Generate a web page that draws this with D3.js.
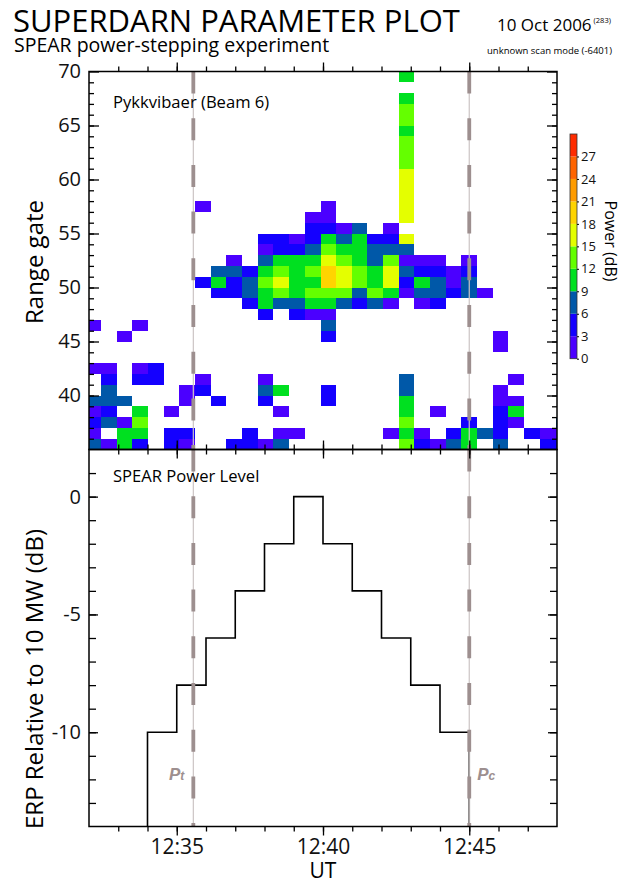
<!DOCTYPE html>
<html>
<head>
<meta charset="utf-8">
<script src="https://cdnjs.cloudflare.com/ajax/libs/d3/7.8.5/d3.min.js"></script>
<style>
  body { margin: 0; background: #fff; }
  svg { display: block; font-family: "Open Sans", "Noto Sans", sans-serif; }
</style>
</head>
<body>
<svg id="chart" width="643" height="884"></svg>
<script>
// scan start times (UT, 10 Oct 2006), one column per scan
var scanTimes = ["12:31:53", "12:32:25", "12:32:57", "12:33:29", "12:34:01", "12:34:33",
  "12:35:05", "12:35:38", "12:36:10", "12:36:42", "12:37:14", "12:37:46", "12:38:18",
  "12:38:50", "12:39:23", "12:39:55", "12:40:27", "12:40:59", "12:41:31", "12:42:03",
  "12:42:35", "12:43:07", "12:43:40", "12:44:12", "12:44:44", "12:45:16", "12:45:48",
  "12:46:20", "12:46:52", "12:47:25", "12:47:57"];
var scanLength = 32; // seconds

// range gates, top row first
var rangeGates = [69, 68, 67, 66, 65, 64, 63, 62, 61, 60, 59, 58, 57, 56, 55, 54, 53, 52,
  51, 50, 49, 48, 47, 46, 45, 44, 43, 42, 41, 40, 39, 38, 37, 36, 35];

// power per cell as 3 dB band (0 = 0-3 dB ... 6 = 18-21 dB), "." = no echo
var powerBands = [
  "....................3..........",
  "...............................",
  "....................3..........",
  "....................4..........",
  "....................4..........",
  "....................3..........",
  "....................4..........",
  "....................4..........",
  "....................4..........",
  "....................5..........",
  "....................5..........",
  "....................5..........",
  ".......0.......0....5..........",
  "..............00....5..........",
  "..............1102.0...........",
  "...........1101323115..........",
  "...........0112433222..........",
  ".........0.233354324000.0......",
  "........22134346543521101......",
  ".......131245336543513202......",
  "........112343444243022120.....",
  "..........1322332120.01........",
  "...........1.100...............",
  "0..0...........2...............",
  "..0............1..........0....",
  "..........................0....",
  "...............................",
  "00.01..........................",
  ".1.11..0...0........2......0...",
  ".2....01...23..1....2.....0....",
  "222...0.1..1...1....3.....00...",
  "01.3.0......0.......3.0...13...",
  "1204................4...1.10..2",
  "0.33.11...1.00.....030.1321.100",
  "2031.10..1102.......41023.2..11"
];

var powerTicks = [0, 3, 6, 9, 12, 15, 18, 21, 24, 27];
var powerColors = ["#4b00ff", "#1400ff", "#0058a8", "#00e020", "#64ff00",
  "#e4ff00", "#ffd400", "#ff9c00", "#ff6400", "#ff2c00"];

// SPEAR ERP step sequence (dB rel. 10 MW); -20 = transmitter off
var stepTimes = ["12:32:00", "12:34:00", "12:35:00", "12:36:00", "12:37:00", "12:38:00",
  "12:39:00", "12:40:00", "12:41:00", "12:42:00", "12:43:00", "12:44:00", "12:45:00", "12:48:00"];
var stepLevels = [-20, -10, -8, -6, -4, -2, 0, -2, -4, -6, -8, -10, -20, -20];

var gateTicks = [40, 45, 50, 55, 60, 65, 70];
var erpTicks = [-10, -5, 0];

var markers = [{ name: "t", time: "12:35:34", side: "left" },
               { name: "c", time: "12:45:00", side: "right" }];

(function () {
  'use strict';
  var parse = d3.utcParse("%Y-%m-%d %H:%M:%S");
  function t(s) { return parse("2006-10-10 " + s); }

  var left = 89, right = 557;
  var top1 = 71.5, mid = 449.5, bot = 826.5;
  var grey = "#9d8f8f";

  var svg = d3.select("#chart");

  var x = d3.scaleUtc().domain([t("12:32:00"), t("12:48:00")]).range([left, right]);
  var yGate = d3.scaleLinear().domain([35, 70]).range([mid, top1]);
  var yErp = d3.scaleLinear().domain([-14, 2]).range([bot, mid]);
  var color = d3.scaleQuantize().domain([0, 30]).range(powerColors);

  var defs = svg.append("defs");
  defs.append("clipPath").attr("id", "clipTop").append("rect")
    .attr("x", left).attr("y", top1).attr("width", right - left).attr("height", mid - top1);
  defs.append("clipPath").attr("id", "clipBot").append("rect")
    .attr("x", left).attr("y", mid).attr("width", right - left).attr("height", bot - mid);

  // ---- titles ----
  svg.append("text").attr("x", 13).attr("y", 32).attr("font-size", 31)
    .text("SUPERDARN PARAMETER PLOT");
  svg.append("text").attr("x", 14).attr("y", 52).attr("font-size", 19.5)
    .text("SPEAR power-stepping experiment");
  var dt = svg.append("text").attr("x", 497).attr("y", 31).attr("font-size", 17);
  dt.append("tspan").text("10 Oct 2006");
  dt.append("tspan").attr("font-size", 7.5).attr("dx", 2).attr("dy", -8).text("(283)");
  svg.append("text").attr("x", 612).attr("y", 54).attr("font-size", 9.5)
    .attr("text-anchor", "end").text("unknown scan mode (-6401)");

  // ---- range-time cells ----
  var cells = [];
  powerBands.forEach(function (row, i) {
    row.split("").forEach(function (c, k) {
      if (c === ".") return;
      var start = t(scanTimes[k]);
      var end = k + 1 < scanTimes.length ? t(scanTimes[k + 1])
        : new Date(start.getTime() + scanLength * 1000);
      cells.push({ gate: rangeGates[i], start: start, end: end, power: +c * 3 + 1.5 });
    });
  });

  svg.append("g").attr("clip-path", "url(#clipTop)")
    .selectAll("rect").data(cells).enter().append("rect")
    .attr("x", function (d) { return x(d.start); })
    .attr("width", function (d) { return x(d.end) - x(d.start); })
    .attr("y", function (d) { return yGate(d.gate + 1); })
    .attr("height", function (d) { return yGate(d.gate) - yGate(d.gate + 1); })
    .attr("fill", function (d) { return color(d.power); })
    .attr("shape-rendering", "crispEdges");

  // ---- power steps ----
  var steps = stepTimes.map(function (s, i) { return { time: t(s), level: stepLevels[i] }; });
  var line = d3.line().curve(d3.curveStepAfter)
    .x(function (d) { return x(d.time); })
    .y(function (d) { return yErp(d.level); });
  svg.append("g").attr("clip-path", "url(#clipBot)")
    .append("path").datum(steps).attr("d", line)
    .attr("fill", "none").attr("stroke", "#000").attr("stroke-width", 1.6);

  // ---- Pt / Pc markers ----
  markers.forEach(function (m) {
    var mx = x(t(m.time));
    [[top1, mid], [mid, bot]].forEach(function (span) {
      svg.append("line").attr("x1", mx).attr("x2", mx).attr("y1", span[0]).attr("y2", span[1])
        .attr("stroke", "#cbc4c4").attr("stroke-width", 1.2);
      svg.append("line").attr("x1", mx).attr("x2", mx).attr("y1", span[0]).attr("y2", span[1])
        .attr("stroke", grey).attr("stroke-width", 3.8).attr("stroke-dasharray", "22,24.7");
    });
    var lab = svg.append("text").attr("y", 780).attr("fill", grey)
      .attr("font-family", "Liberation Sans, Arial, sans-serif")
      .attr("font-weight", "bold").attr("font-style", "italic").attr("font-size", 17)
      .attr("x", m.side === "left" ? mx - 9 : mx + 8)
      .attr("text-anchor", m.side === "left" ? "end" : "start");
    lab.append("tspan").text("P");
    lab.append("tspan").attr("font-size", 12).text(m.name);
  });

  // ---- axes ----
  function frame(y0, y1) {
    svg.append("rect").attr("x", left).attr("y", y0).attr("width", right - left)
      .attr("height", y1 - y0).attr("fill", "none").attr("stroke", "#000").attr("stroke-width", 1.5);
  }

  function ticks(axis, pos, scale, values, size) {
    var g = svg.append("g").attr("transform", pos).call(axis(scale).tickValues(values)
      .tickSize(-size).tickFormat(""));
    g.select(".domain").remove();
    g.selectAll("line").attr("stroke-width", 1.3);
    return g;
  }

  var minutes = d3.utcMinute.range(t("12:33:00"), t("12:48:00"));
  var fives = minutes.filter(function (d) { return d.getUTCMinutes() % 5 === 0; });

  [[top1, mid, yGate, 5, 10, d3.range(36, 70), gateTicks],
   [mid, bot, yErp, 7, 9, d3.range(-13, 2), erpTicks]].forEach(function (p) {
    var y0 = p[0], y1 = p[1], ys = p[2];
    ticks(d3.axisTop, "translate(0," + y1 + ")", x, minutes, 5);
    ticks(d3.axisTop, "translate(0," + y1 + ")", x, fives, 9);
    ticks(d3.axisBottom, "translate(0," + y0 + ")", x, minutes, 5);
    ticks(d3.axisBottom, "translate(0," + y0 + ")", x, fives, 9);
    ticks(d3.axisLeft, "translate(" + left + ",0)", ys, p[5], p[3]);
    ticks(d3.axisLeft, "translate(" + left + ",0)", ys, p[6], p[4]);
    ticks(d3.axisRight, "translate(" + right + ",0)", ys, p[5], p[3]);
    ticks(d3.axisRight, "translate(" + right + ",0)", ys, p[6], p[4]);
    frame(y0, y1);
  });

  function labels(axis, pos, scale, values, fmt, size, pad) {
    var g = svg.append("g").attr("transform", pos)
      .call(axis(scale).tickValues(values).tickSize(0).tickPadding(pad).tickFormat(fmt));
    g.select(".domain").remove();
    g.selectAll("text").attr("font-size", size).attr("fill", "#111")
      .attr("font-family", "'Open Sans', sans-serif");
    return g;
  }
  function plain(d) { return String(d); }
  labels(d3.axisLeft, "translate(" + left + ",0)", yGate, gateTicks, plain, 20, 8);
  labels(d3.axisLeft, "translate(" + left + ",0)", yErp, erpTicks, plain, 20, 8);
  labels(d3.axisBottom, "translate(0," + bot + ")", x, fives, d3.utcFormat("%H:%M"), 21, 13);

  svg.append("text").attr("x", 323).attr("y", 878).attr("text-anchor", "middle")
    .attr("font-size", 21).text("UT");
  svg.append("text").attr("transform", "translate(43,262) rotate(-90)")
    .attr("text-anchor", "middle").attr("font-size", 24).text("Range gate");
  svg.append("text").attr("transform", "translate(43,679) rotate(-90)")
    .attr("text-anchor", "middle").attr("font-size", 24).text("ERP Relative to 10 MW (dB)");

  svg.append("text").attr("x", 113).attr("y", 108).attr("font-size", 16.6)
    .text("Pykkvibaer (Beam 6)");
  svg.append("text").attr("x", 113).attr("y", 482).attr("font-size", 16.6)
    .text("SPEAR Power Level");

  // ---- colour bar ----
  var cbX = 570, cbW = 7;
  var yc = d3.scaleLinear().domain([0, 30]).range([358.7, 134]);
  var bands = d3.range(powerColors.length).map(function (i) { return i * 3; });
  svg.append("g").selectAll("rect").data(bands).enter().append("rect")
    .attr("x", cbX).attr("width", cbW)
    .attr("y", function (d) { return yc(d + 3); })
    .attr("height", function (d) { return yc(d) - yc(d + 3); })
    .attr("fill", function (d) { return color(d + 1.5); });
  svg.append("rect").attr("x", cbX).attr("y", yc(30)).attr("width", cbW)
    .attr("height", yc(0) - yc(30)).attr("fill", "none").attr("stroke", "#333").attr("stroke-width", 0.8);
  var cb = svg.append("g").attr("transform", "translate(" + (cbX + cbW) + ",0)")
    .call(d3.axisRight(yc).tickValues(powerTicks).tickSize(2).tickPadding(2));
  cb.select(".domain").remove();
  cb.selectAll("text").attr("font-size", 13).attr("fill", "#111")
    .attr("font-family", "'Open Sans', sans-serif");
  svg.append("text").attr("transform", "translate(605,241) rotate(90)")
    .attr("text-anchor", "middle").attr("font-size", 16).text("Power (dB)");
})();
</script>
</body>
</html>
